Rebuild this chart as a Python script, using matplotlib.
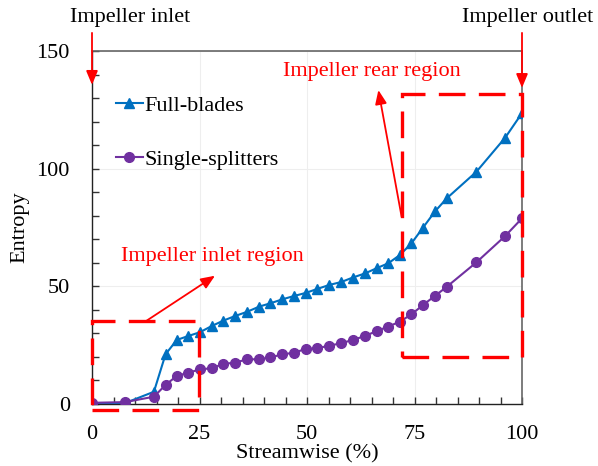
import matplotlib
matplotlib.use("Agg")
import matplotlib.pyplot as plt
from matplotlib.patches import Rectangle
from matplotlib.ticker import MultipleLocator

plt.rcParams['font.family'] = ['Liberation Serif', 'DejaVu Serif']

# Streamwise position (%) along the impeller
streamwise = [0, 7.7, 14.4, 17.1, 19.7, 22.4, 25.1, 27.8, 30.5, 33.3, 36.1,
              38.9, 41.5, 44.3, 47.0, 49.7, 52.4, 55.2, 57.9, 60.6, 63.5,
              66.2, 68.9, 71.6, 74.3, 77.0, 79.8, 82.5, 89.4, 96.1, 100]

full_blades = [0.3, 0.4, 5.2, 21.1, 27.2, 28.9, 30.5, 33.1, 35.4, 37.4, 39.2,
               41.4, 42.8, 44.5, 45.9, 47.2, 48.9, 50.6, 51.8, 53.7, 55.5,
               57.7, 59.8, 63.3, 68.3, 75.0, 81.9, 87.4, 98.7, 113.2, 123.6]

single_splitters = [0.5, 0.8, 3.1, 8.1, 11.9, 13.3, 14.7, 15.2, 17.0, 17.6, 19.0,
                    19.0, 19.8, 21.1, 21.8, 23.4, 23.7, 24.8, 25.8, 27.2, 28.9,
                    31.0, 32.9, 35.0, 38.1, 42.1, 46.0, 49.8, 60.2, 71.4, 78.9]

series_labels = ['Full-blades', 'Single-splitters']
x_ticks = [0, 25, 50, 75, 100]
y_ticks = [0, 50, 100, 150]

blue = '#0070C0'
purple = '#7030A0'
red = '#FF0000'

fig = plt.figure(figsize=(5.98, 4.66), dpi=100)
ax = fig.add_axes([92 / 598, 62 / 466, 430 / 598, 353 / 466])

ax.plot(streamwise, full_blades, color=blue, lw=1.5, marker='^', ms=7,
        label=series_labels[0], zorder=4)
ax.plot(streamwise, single_splitters, color=purple, lw=1.5, marker='o', ms=7,
        label=series_labels[1], zorder=4)

ax.set_xlim(0, 100)
ax.set_ylim(0, 150)
ax.set_xticks(x_ticks)
ax.set_yticks(y_ticks)
ax.xaxis.set_minor_locator(MultipleLocator(5))
ax.yaxis.set_minor_locator(MultipleLocator(10))
ax.tick_params(axis='both', which='both', direction='in', length=5, width=1,
               labelsize=16, top=False, right=False, color='#333333')
ax.tick_params(axis='x', pad=15)
ax.tick_params(axis='y', pad=16)
ax.grid(True, which='major', color='#eeeeee', lw=0.8)
ax.set_axisbelow(True)

for side in ['left', 'bottom']:
    ax.spines[side].set_color('#222222')
    ax.spines[side].set_linewidth(1.0)
for side in ['top', 'right']:
    ax.spines[side].set_color('#666666')
    ax.spines[side].set_linewidth(1.2)

ax.set_xlabel('Streamwise (%)', fontsize=16, labelpad=0)
ax.set_ylabel('Entropy', fontsize=16, labelpad=5)

leg = ax.legend(loc='upper left', bbox_to_anchor=(0.035, 0.90), frameon=False,
                fontsize=16, handlelength=1.2, handletextpad=0.1,
                labelspacing=1.5, borderaxespad=0)

# Dashed boxes marking the inlet and rear regions
dash = dict(fill=False, edgecolor=red, lw=2.4, linestyle=(0, (8, 4)),
            clip_on=False, zorder=5)
ax.add_patch(Rectangle((0, -2.5), 24.9, 37.9, **dash))
ax.add_patch(Rectangle((72.2, 20.1), 27.8, 111.5, **dash))

arrow = dict(arrowstyle='-|>,head_length=0.6,head_width=0.25', color=red,
             lw=1.3, mutation_scale=14, shrinkA=0, shrinkB=0)

# Region labels with pointer arrows
ax.annotate('', xy=(28.6, 54.5), xytext=(12.7, 35.4), arrowprops=arrow,
            annotation_clip=False, zorder=6)
ax.text(28.0, 62.6, 'Impeller inlet region', color=red, fontsize=16,
        ha='center', va='center')

ax.annotate('', xy=(66.6, 133.4), xytext=(72.0, 79.6), arrowprops=arrow,
            annotation_clip=False, zorder=6)
ax.text(65.1, 141.1, 'Impeller rear region', color=red, fontsize=16,
        ha='center', va='center')

# Inlet and outlet markers above the axes
ax.annotate('', xy=(0, 135.6), xytext=(0, 157.7), arrowprops=arrow,
            annotation_clip=False, zorder=6)
ax.annotate('', xy=(100, 134.3), xytext=(100, 157.7), arrowprops=arrow,
            annotation_clip=False, zorder=6)
ax.text(8.8, 164.2, 'Impeller inlet', fontsize=16, ha='center', va='center',
        clip_on=False)
ax.text(101.4, 164.2, 'Impeller outlet', fontsize=16, ha='center', va='center',
        clip_on=False)

fig.savefig('out.png', dpi=100)
